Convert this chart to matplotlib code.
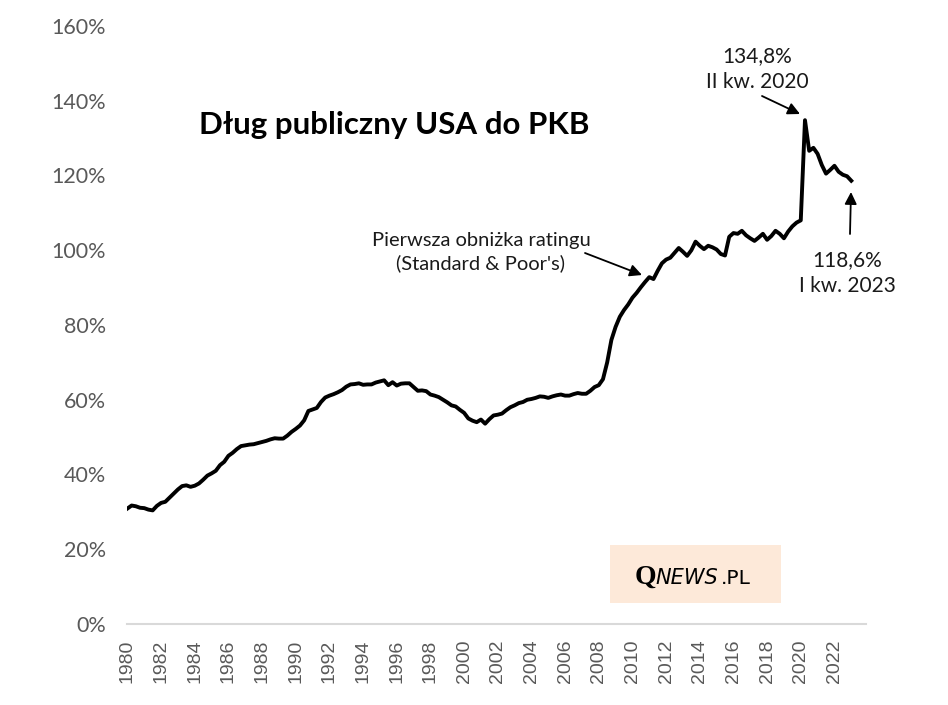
import matplotlib
matplotlib.use("Agg")
import matplotlib.pyplot as plt

# US public debt to GDP, quarterly 1980 Q1 - 2023 Q1 (percent)
debt_1980s = [30.9, 31.7, 31.5, 31.1,  31.0, 30.6, 30.4, 31.6,
              32.4, 32.7, 33.8, 34.9,  36.0, 36.9, 37.1, 36.7,
              37.0, 37.6, 38.6, 39.7,  40.3, 41.0, 42.5, 43.4,
              45.0, 45.8, 46.8, 47.6,  47.8, 48.0, 48.1, 48.4,
              48.7, 49.0, 49.4, 49.7,  49.6, 49.6, 50.4, 51.4]
debt_1990s = [52.2, 53.1, 54.5, 57.0,  57.4, 57.8, 59.4, 60.6,
              61.1, 61.5, 62.0, 62.6,  63.5, 64.1, 64.2, 64.4,
              64.0, 64.1, 64.1, 64.6,  64.9, 65.2, 63.9, 64.7,
              63.8, 64.3, 64.4, 64.4,  63.4, 62.4, 62.5, 62.3,
              61.4, 61.1, 60.7, 60.0,  59.3, 58.5, 58.2, 57.3]
debt_2000s = [56.5, 55.0, 54.4, 54.0,  54.7, 53.6, 54.8, 55.8,
              56.0, 56.3, 57.2, 58.0,  58.5, 59.1, 59.4, 60.0,
              60.2, 60.5, 60.9, 60.8,  60.5, 60.9, 61.2, 61.4,
              61.1, 61.1, 61.5, 61.8,  61.6, 61.6, 62.4, 63.4,
              63.9, 65.5, 70.0, 76.0,  79.5, 82.2, 84.0, 85.5]
debt_2010s = [87.3, 88.6, 90.1, 91.5,  92.8, 92.3, 94.5, 96.5,
              97.5, 98.0, 99.3, 100.6, 99.6, 98.5, 100.0, 102.3,
              101.2, 100.3, 101.2, 100.8, 100.2, 99.0, 98.6, 103.6,
              104.6, 104.4, 105.2, 104.0, 103.2, 102.5, 103.4, 104.4,
              102.8, 103.8, 105.2, 104.4, 103.2, 105.0, 106.4, 107.4]
debt_2020s = [108.0, 134.8, 126.6, 127.4, 125.8, 122.8, 120.5, 121.5,
              122.6, 121.0, 120.2, 119.8, 118.6]

debt = debt_1980s + debt_1990s + debt_2000s + debt_2010s + debt_2020s
quarters = list(range(len(debt)))
years = list(range(1980, 2023, 2))

title = "Dług publiczny USA do PKB"
peak_label = "134,8%\nII kw. 2020"
last_label = "118,6%\nI kw. 2023"
rating_label = "Pierwsza obniżka ratingu\n(Standard & Poor's)"

W, H = 948, 705
fig = plt.figure(figsize=(W / 100, H / 100), dpi=100)
ax = fig.add_axes([127 / W, 1 - 624 / H, (866 - 127) / W, (624 - 26) / H])

body = ["Lato", "DejaVu Sans"]
gray = "#595959"

ax.plot(quarters, debt, color="black", lw=2.8, solid_joinstyle="round")

ax.set_xlim(-0.1, 175.5)
ax.set_ylim(0, 160)
ax.set_yticks(range(0, 161, 20))
ax.set_yticklabels([f"{v}%" for v in range(0, 161, 20)], family=body, fontsize=15.5, color=gray)
ax.set_xticks([(y - 1980) * 4 for y in years])
ax.set_xticklabels([str(y) for y in years], family="Liberation Sans", fontsize=14,
                   color=gray, rotation=90, va="top")
ax.tick_params(axis="y", length=0, pad=15)
ax.tick_params(axis="x", length=0, pad=11)

for s in ["top", "right", "left"]:
    ax.spines[s].set_visible(False)
ax.spines["bottom"].set_color("#d9d9d9")
ax.spines["bottom"].set_linewidth(1.5)

def px(x, y):
    # pixel position on the figure -> figure fraction
    return (x / W, 1 - y / H)

fig.text(*px(394, 125), title, family=body, fontsize=22.5, fontweight="bold",
         ha="center", va="center", color="black")

arrow = dict(arrowstyle="-|>", color="black", lw=1.3, mutation_scale=18, shrinkA=0, shrinkB=0)
txt = "#1a1a1a"

fig.text(*px(757, 69), peak_label, family=body, fontsize=15, ha="center", va="center",
         color=txt, linespacing=1.35)
ax.annotate("", xy=px(800, 114), xycoords="figure fraction",
            xytext=px(762, 96), textcoords="figure fraction", arrowprops=arrow)

fig.text(*px(847, 273), last_label, family=body, fontsize=15, ha="center", va="center",
         color=txt, linespacing=1.35)
ax.annotate("", xy=px(851, 192), xycoords="figure fraction",
            xytext=px(850, 234), textcoords="figure fraction", arrowprops=arrow)

fig.text(*px(481, 252), rating_label, family=body, fontsize=14.5, ha="center", va="center",
         color=txt, linespacing=1.35)
ax.annotate("", xy=px(642, 275), xycoords="figure fraction",
            xytext=px(585, 253), textcoords="figure fraction", arrowprops=arrow)

# logo box
fig.patches.append(plt.Rectangle(px(610, 603), (781 - 610) / W, (603 - 545) / H,
                                 transform=fig.transFigure, facecolor="#fde9d9",
                                 edgecolor="none", zorder=0))
fig.text(*px(635, 584), "Q", family="Liberation Serif", fontsize=20, fontweight="bold",
         ha="left", va="baseline", color="black")
fig.text(*px(655, 584), "NEWS", family="DejaVu Sans", fontsize=15, style="italic",
         ha="left", va="baseline", color="black")
fig.text(*px(721, 584), ".PL", family="DejaVu Sans", fontsize=14.5,
         ha="left", va="baseline", color="black")

fig.savefig("out.png", dpi=100, facecolor="white")
